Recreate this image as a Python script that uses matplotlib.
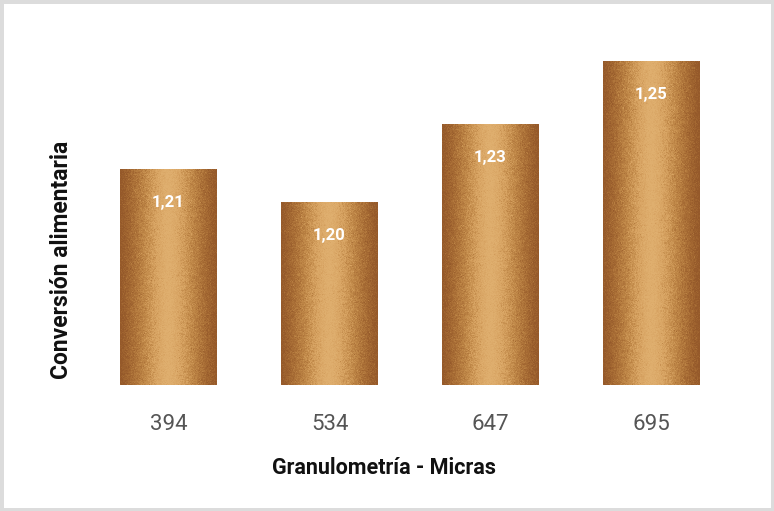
import numpy as np
import matplotlib
matplotlib.use("Agg")
import matplotlib.pyplot as plt
from matplotlib.colors import LinearSegmentedColormap
from matplotlib.patches import Rectangle

categories = ["394", "534", "647", "695"]
values = [1.212, 1.201, 1.227, 1.248]
labels = ["1,21", "1,20", "1,23", "1,25"]

fig = plt.figure(figsize=(7.74, 5.11), dpi=100)
W, H = 774, 511
# figure border
fig.patches.append(Rectangle((0, 0), 1, 1, transform=fig.transFigure,
                             fill=False, edgecolor="#dcdcdc", linewidth=5))

ax = fig.add_axes([88 / W, 1 - 385 / H, 644 / W, 345 / H])
x = np.arange(len(categories))
bars = ax.bar(x, values, width=0.6, bottom=0, color="none", edgecolor="none")
ymin, ymax = 1.14, 1.255
ax.set_ylim(ymin, ymax)
ax.set_xlim(-0.5, len(categories) - 0.5)

cmap = LinearSegmentedColormap.from_list(
    "copper_bar",
    ["#95592a", "#a86d35", "#c08848", "#d8a463", "#e0b070", "#d8a463",
     "#c08848", "#a86d35", "#95592a"])
u = np.linspace(0, 1, 120)
v = np.linspace(0, 1, 300)
U, V = np.meshgrid(u, v)
rng = np.random.default_rng(3)
texture = rng.normal(0, 0.035, U.shape)
for b in bars:
    x0 = b.get_x()
    x1 = x0 + b.get_width()
    top = b.get_height()
    shade = np.clip(U + texture, 0, 1)
    im = ax.imshow(shade, cmap=cmap, extent=[x0, x1, ymin, top], aspect="auto",
                   origin="lower", zorder=2, interpolation="nearest")
    im.set_clip_path(b)

for xi, val, lab in zip(x, values, labels):
    ax.annotate(lab, (xi, val), xytext=(0, -24), textcoords="offset points",
                ha="center", va="center", color="white", fontsize=12,
                fontweight="bold", family="Roboto", zorder=3)

ax.set_xticks(x)
ax.set_xticklabels(categories, fontsize=16, color="#555555", family="Roboto")
ax.tick_params(axis="x", length=0, pad=21)
ax.set_yticks([])
for s in ax.spines.values():
    s.set_visible(False)
fig.text(384 / W, 1 - 468 / H, "Granulometría - Micras", ha="center",
         va="center", fontsize=15.5, fontweight="bold",
         family="Roboto", color="#111111")
fig.text(62 / W, 1 - 260 / H, "Conversión alimentaria", rotation=90,
         ha="center", va="center", fontsize=16.5, fontweight="bold",
         family="Roboto", color="#111111")

fig.savefig("out.png", dpi=100)
